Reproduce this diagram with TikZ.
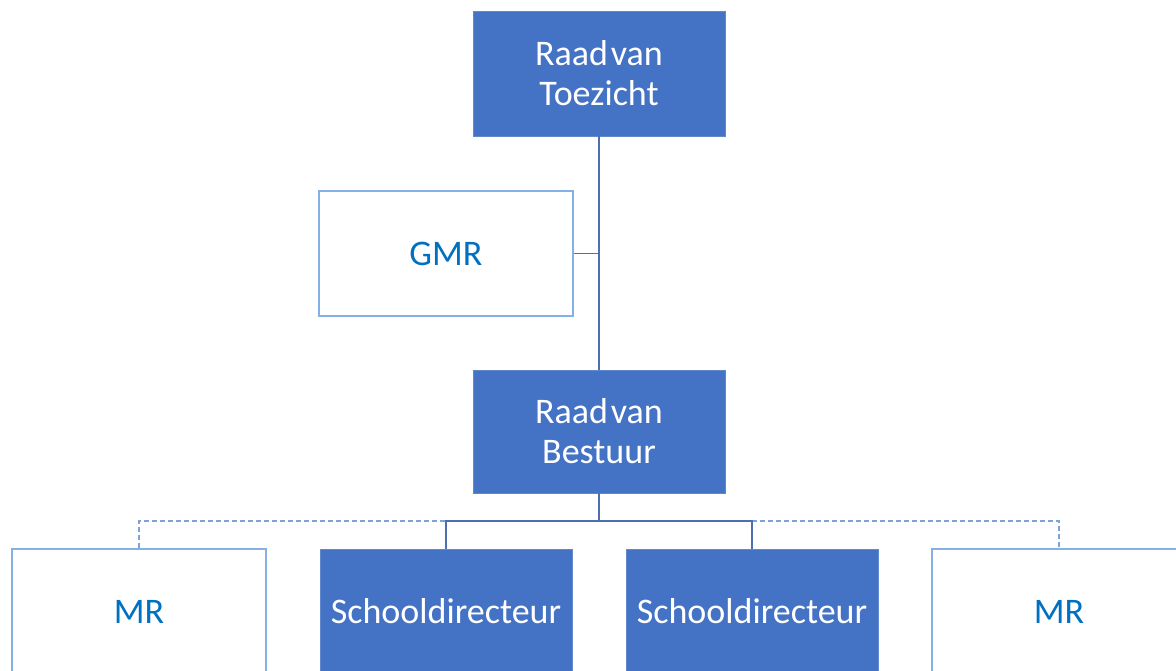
\documentclass[tikz,border=0pt]{standalone}
\usepackage{fontspec}
\setmainfont{Carlito}
\definecolor{boxblue}{HTML}{4472C4}
\definecolor{boxedge}{HTML}{5F88CF}
\definecolor{lightedge}{HTML}{85B0E3}
\definecolor{txtblue}{HTML}{0070C0}
\definecolor{linecol}{HTML}{4D6FB0}
\definecolor{dashcol}{HTML}{7FA3D8}
\begin{document}
\begin{tikzpicture}[x=1pt,y=-1pt,
  solidbox/.style={rectangle, fill=boxblue, draw=boxedge, line width=0.8pt, text=white,
    align=center, inner sep=0pt, font=\fontsize{36}{40}\selectfont, minimum width=252pt, minimum height=125pt},
  openbox/.style={rectangle, fill=white, draw=lightedge, line width=1.2pt, text=txtblue,
    align=center, inner sep=0pt, font=\fontsize{36}{40}\selectfont, minimum width=254pt, minimum height=125pt},
  conn/.style={draw=linecol, line width=1.8pt},
  dconn/.style={draw=dashcol, line width=1.6pt, dash pattern=on 5pt off 3pt}]
\useasboundingbox (0,0) rectangle (1176,670);
\clip (0,0) rectangle (1176,670);
\node[solidbox] (rvt) at (599,73.5) {Raad\hspace{0.08em}van\\Toezicht};
\node[openbox] (gmr) at (446,253.5) {GMR};
\node[solidbox, minimum height=123pt] (rvb) at (599,431.5) {Raad\hspace{0.08em}van\\Bestuur};
\node[openbox] (mr1) at (139,611.5) {MR};
\node[solidbox] (sd1) at (446,611.5) {Schooldirecteur};
\node[solidbox] (sd2) at (752,611.5) {Schooldirecteur};
\node[openbox] (mr2) at (1059,611.5) {MR};
\coordinate (bus) at (599,521);
\draw[dconn] (mr1.north) |- (bus) -| (mr2.north);
\draw[conn] (rvt.south) -- (rvb.north);
\draw[conn] (gmr.east) -- (gmr.east -| rvt.south);
\draw[conn] (rvb.south) -- (bus);
\draw[conn] (sd1.north) |- (bus) -| (sd2.north);
\end{tikzpicture}
\end{document}
